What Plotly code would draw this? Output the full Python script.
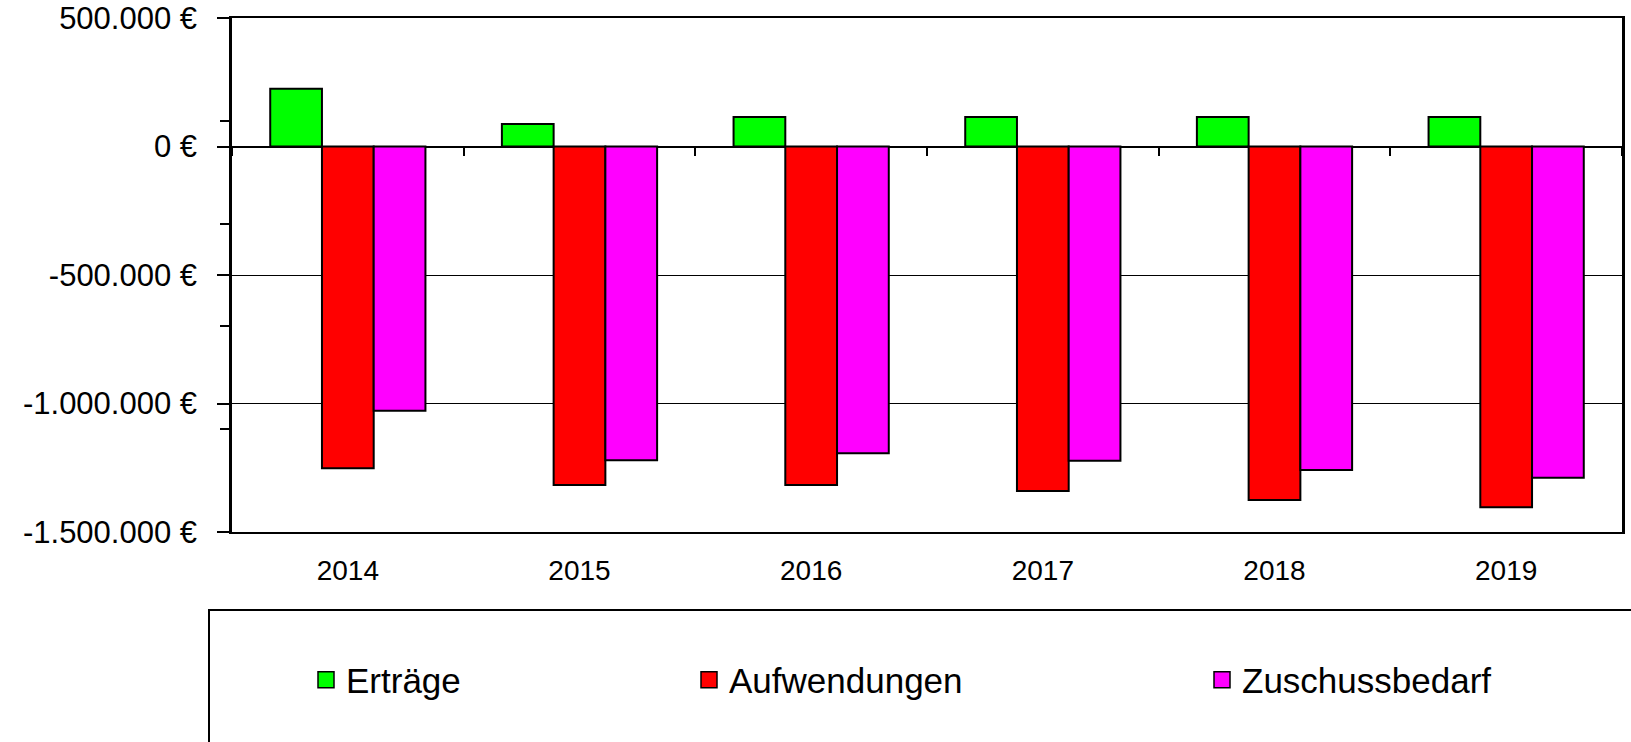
import plotly.graph_objects as go

years = ["2014", "2015", "2016", "2017", "2018", "2019"]
ertraege = [225000, 88000, 115000, 115000, 115000, 115000]
aufwendungen = [-1252000, -1317000, -1317000, -1340000, -1375000, -1404000]
zuschussbedarf = [-1028000, -1221000, -1194000, -1223000, -1259000, -1289000]

y_tickvals = [500000, 0, -500000, -1000000, -1500000]
y_ticktext = ["500.000 €", "0 €", "-500.000 €", "-1.000.000 €", "-1.500.000 €"]

FONT = "Liberation Sans, Arial, sans-serif"
W, H = 1631, 742
L, R, T, B = 232, 9, 18, 210
pw, ph = W - L - R, H - T - B

def px2x(p):
    return (p - L) / pw

def py2y(p):
    return (H - B - p) / ph

fig = go.Figure()
series = [("Erträge", ertraege, "#00FF00", "legend"),
          ("Aufwendungen", aufwendungen, "#FF0000", "legend2"),
          ("Zuschussbedarf", zuschussbedarf, "#FF00FF", "legend3")]
for name, vals, col, leg in series:
    fig.add_trace(go.Bar(x=years, y=vals, name=name, showlegend=False,
                         marker=dict(color=col, line=dict(color="black", width=2)),
                         hovertemplate="%{x}: %{y}<extra>" + name + "</extra>"))
for name, vals, col, leg in series:
    # legend-only entry with a larger square swatch
    fig.add_trace(go.Scatter(x=[None], y=[None], name=name, legend=leg, mode="markers",
                             marker=dict(symbol="square", size=16, color=col,
                                         line=dict(color="black", width=1.5)),
                             hoverinfo="skip"))

# helper trace (invisible) so the zero-crossing category axis is drawn
fig.add_trace(go.Scatter(x=years, y=[None] * len(years), xaxis="x2", mode="markers",
                         marker=dict(opacity=0), showlegend=False, hoverinfo="skip"))

leg_common = dict(orientation="h", yanchor="middle", xanchor="left",
                  xref="container", yref="container", itemsizing="trace",
                  font=dict(family=FONT, size=35, color="black"),
                  bgcolor="rgba(0,0,0,0)", borderwidth=0)

fig.update_layout(
    width=W, height=H,
    margin=dict(l=L, r=R, t=T, b=B, autoexpand=False),
    paper_bgcolor="white", plot_bgcolor="white",
    barmode="group", bargap=0.33, bargroupgap=0,
    font=dict(family=FONT, color="black"),
    legend=dict(x=306 / W, y=(H - 680) / H, **leg_common),
    legend2=dict(x=689 / W, y=(H - 680) / H, **leg_common),
    legend3=dict(x=1202 / W, y=(H - 680) / H, **leg_common),
    xaxis=dict(type="category", categoryorder="array", categoryarray=years,
               showline=True, linecolor="black", linewidth=2, mirror=True,
               ticks="outside", ticklen=12, tickcolor="rgba(0,0,0,0)",
               tickfont=dict(family=FONT, size=28, color="black"),
               showgrid=False, zeroline=False, fixedrange=True),
    xaxis2=dict(type="category", matches="x", overlaying="x", anchor="free",
                position=0.75, side="bottom", showline=False,
                ticks="outside", tickson="boundaries", ticklen=8, tickwidth=2,
                tickcolor="black", showticklabels=False, showgrid=False,
                zeroline=False),
    yaxis=dict(range=[-1500000, 500000], tickvals=y_tickvals, ticktext=y_ticktext,
               showline=True, linecolor="black", linewidth=2.5, mirror=True,
               ticks="outside", ticklen=12, tickwidth=1.5, tickcolor="black",
               ticklabelstandoff=14,
               tickfont=dict(family=FONT, size=31, color="black"),
               showgrid=True, gridcolor="black", gridwidth=1,
               zeroline=True, zerolinecolor="black", zerolinewidth=2,
               minor=dict(tick0=100000, dtick=400000, ticks="outside", ticklen=9,
                          tickwidth=1.5, tickcolor="black", showgrid=False),
               fixedrange=True),
    shapes=[dict(type="rect", xref="paper", yref="paper",
                 x0=px2x(209), x1=px2x(1680), y0=py2y(800), y1=py2y(610),
                 line=dict(color="black", width=2), fillcolor="rgba(0,0,0,0)")],
)

fig.write_html("out.html", config={"displayModeBar": False},
               post_script="document.body.style.margin='0px';document.body.style.overflow='hidden';")
